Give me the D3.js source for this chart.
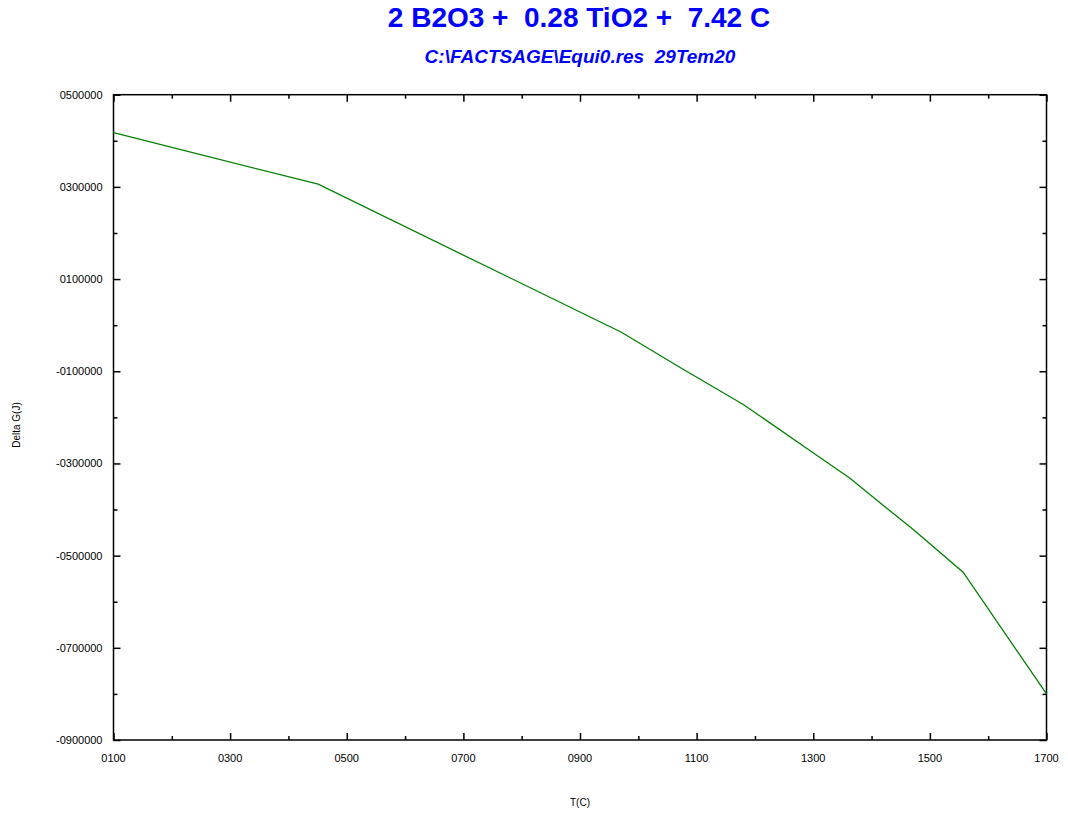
<!DOCTYPE html>
<html>
<head>
<meta charset="utf-8">
<script src="https://cdn.jsdelivr.net/npm/d3@7"></script>
<style>
  body { margin: 0; background: #fff; }
  svg text { font-family: "Liberation Sans", Arial, sans-serif; }
</style>
</head>
<body>
<div id="chart"></div>
<script>
// data
const temps = [100, 451, 971, 1071, 1180, 1291, 1363, 1424, 1471, 1557, 1700];
const deltaG = [417600, 305800, -15400, -91300, -172000, -269200, -332100, -395000, -442700, -536000, -800000];
const xMajor = [100, 300, 500, 700, 900, 1100, 1300, 1500, 1700];
const xMinor = [200, 400, 600, 800, 1000, 1200, 1400, 1600];
const yMajor = [500000, 300000, 100000, -100000, -300000, -500000, -700000, -900000];
const yMinor = [400000, 200000, 0, -200000, -400000, -600000, -800000];

const width = 1068, height = 816;
const margin = {left: 113.5, right: 21.5, top: 94.7, bottom: 76};
const w = width - margin.left - margin.right;
const h = height - margin.top - margin.bottom;

const svg = d3.select("#chart").append("svg")
    .attr("width", width)
    .attr("height", height);

// titles
svg.append("text")
    .attr("x", 579).attr("y", 27)
    .attr("text-anchor", "middle")
    .style("font-size", "28px").style("font-weight", "bold")
    .attr("fill", "#0000ff")
    .attr("xml:space", "preserve")
    .text("2 B2O3 +  0.28 TiO2 +  7.42 C");

svg.append("text")
    .attr("x", 580).attr("y", 63)
    .attr("text-anchor", "middle")
    .style("font-size", "19px").style("font-weight", "bold").style("font-style", "italic")
    .attr("fill", "#0000ff")
    .attr("xml:space", "preserve")
    .text("C:\\FACTSAGE\\Equi0.res  29Tem20");

const g = svg.append("g")
    .attr("transform", `translate(${margin.left},${margin.top})`);

const x = d3.scaleLinear().domain([100, 1700]).range([0, w]);
const y = d3.scaleLinear().domain([-900000, 500000]).range([h, 0]);

const fmtX = d => d3.format("04d")(d);
const fmtY = d => (d < 0 ? "-" : "") + d3.format("07d")(Math.abs(d));

// ticks on all four sides, pointing inward
function ticks(axisFn, scale, vals, len, transform) {
    g.append("g")
        .attr("transform", transform)
        .call(axisFn(scale).tickValues(vals).tickSize(-len).tickFormat(""))
        .call(s => s.select(".domain").remove())
        .call(s => s.selectAll("line").attr("stroke", "#000").attr("stroke-width", 1.5));
}
ticks(d3.axisBottom, x, xMajor, 7, `translate(0,${h})`);
ticks(d3.axisBottom, x, xMinor, 4, `translate(0,${h})`);
ticks(d3.axisTop, x, xMajor, 7, "translate(0,0)");
ticks(d3.axisTop, x, xMinor, 4, "translate(0,0)");
ticks(d3.axisLeft, y, yMajor, 7, "translate(0,0)");
ticks(d3.axisLeft, y, yMinor, 4, "translate(0,0)");
ticks(d3.axisRight, y, yMajor, 7, `translate(${w},0)`);
ticks(d3.axisRight, y, yMinor, 4, `translate(${w},0)`);

// tick labels
g.selectAll(".xlab").data(xMajor).enter().append("text")
    .attr("x", d => x(d)).attr("y", h + 22)
    .attr("text-anchor", "middle")
    .style("font-size", "11px")
    .text(fmtX);

g.selectAll(".ylab").data(yMajor).enter().append("text")
    .attr("x", -11).attr("y", d => y(d) + 4)
    .attr("text-anchor", "end")
    .style("font-size", "11px")
    .text(fmtY);

// frame
g.append("rect")
    .attr("width", w).attr("height", h)
    .attr("fill", "none").attr("stroke", "#000").attr("stroke-width", 1.5);

// line
const line = d3.line()
    .x((d, i) => x(temps[i]))
    .y(d => y(d));
g.append("path")
    .attr("d", line(deltaG))
    .attr("fill", "none")
    .attr("stroke", "#008000")
    .attr("stroke-width", 1.3);

// axis titles
svg.append("text")
    .attr("x", 580).attr("y", 806)
    .attr("text-anchor", "middle")
    .style("font-size", "10px")
    .text("T(C)");

svg.append("text")
    .attr("transform", "translate(20,425) rotate(-90)")
    .attr("text-anchor", "middle")
    .style("font-size", "10px")
    .text("Delta G(J)");
</script>
</body>
</html>
